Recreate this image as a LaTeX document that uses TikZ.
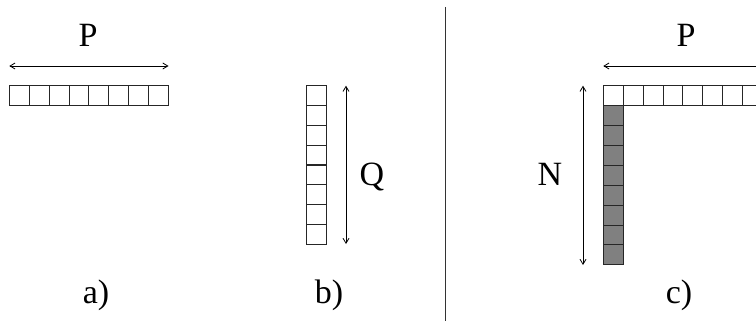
\documentclass[tikz,border=0pt]{standalone}
\usepackage{fontspec}
\setmainfont{Liberation Serif}
\usetikzlibrary{arrows.meta}
\begin{document}
\begin{tikzpicture}[x=1pt,y=-1pt,
  cell/.style={draw=black!85, line width=0.9pt, minimum size=19.9pt, inner sep=0pt, outer sep=0pt, anchor=north west},
  shaded/.style={cell, fill=black!50},
  dim/.style={line width=0.8pt, {Straight Barb[length=5pt,width=6pt]}-{Straight Barb[length=5pt,width=6pt]}},
  lbl/.style={font=\fontsize{34}{40}\selectfont, inner sep=0pt, anchor=base},
  sep/.style={line width=1pt, draw=black!80}]
\useasboundingbox (0,0) rectangle (756,321);
\clip (0,0) rectangle (756,321);
% a) horizontal row
\foreach \i in {0,...,7}
  \node[cell] (a\i) at ({9.3+19.9*\i},85.7) {};
\coordinate (aL) at (9.3,66);
\coordinate (aR) at (168.5,66);
\draw[dim] (aL) -- (aR);
\node[lbl] (Pa) at (88,47) {P};
\node[lbl] (la) at (96,303) {a)};
% b) vertical column
\foreach \i in {0,...,7}
  \node[cell] (b\i) at (306.7,{85.7+19.8*\i}) {};
\coordinate (bT) at (346,85.7);
\coordinate (bB) at (346,244);
\draw[dim] (bT) -- (bB);
\node[lbl] (Qb) at (372,185) {Q};
\node[lbl] (lb) at (329,303) {b)};
% separator
\coordinate (sepT) at (445,7);
\coordinate (sepB) at (445,321);
\draw[sep] (sepT) -- (sepB);
% c) corner
\foreach \i in {0,...,7}
  \node[cell] (c\i) at ({603.3+19.9*\i},85.7) {};
\foreach \i in {1,...,8}
  \node[shaded] (d\i) at (603.3,{85.7+19.9*\i}) {};
\coordinate (cL) at (603.3,66);
\coordinate (cR) at (762.5,66);
\draw[dim] (cL) -- (cR);
\coordinate (cT) at (583,85.7);
\coordinate (cB) at (583,265);
\draw[dim] (cT) -- (cB);
\node[lbl] (Pc) at (686,47) {P};
\node[lbl] (Nc) at (550,185) {N};
\node[lbl] (lc) at (679,303) {c)};
\end{tikzpicture}
\end{document}
